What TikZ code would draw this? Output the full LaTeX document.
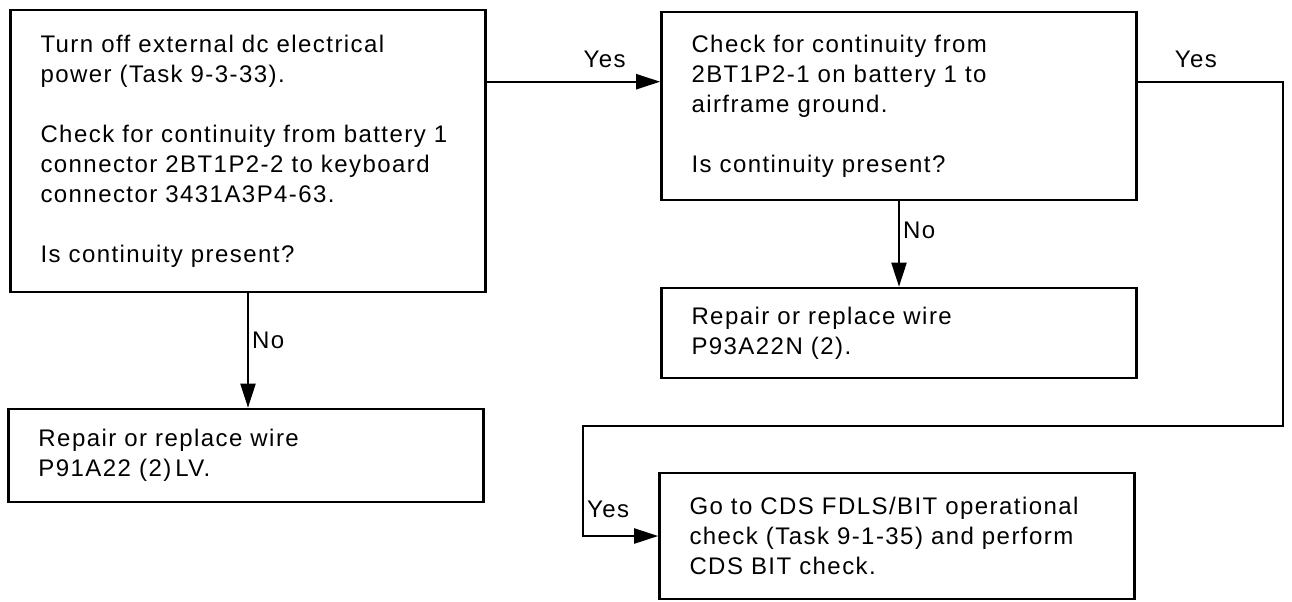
\documentclass[tikz,border=0pt]{standalone}
\usepackage{fontspec}
\setmainfont{Liberation Sans}[LetterSpace=6,WordSpace=1.5]
\usetikzlibrary{arrows.meta,positioning,calc}
\tikzset{
  flowbox/.style={draw, line width=1.3pt, align=left, text width=207.5pt, inner xsep=15pt, inner ysep=0pt, font=\fontsize{12}{15}\selectfont},
  edge/.style={-{Triangle[length=12pt,width=7.5pt]}, line width=1.1pt},
  answer/.style={font=\fontsize{12}{13}\selectfont, inner sep=1.5pt}
}

\begin{document}
\begin{tikzpicture}[x=0.5pt,y=-0.5pt]
  \useasboundingbox[fill=white] (0,0) rectangle (1292,601);
  % question boxes
  \node[flowbox, minimum height=141pt] (pwr) at (248,151) {Turn off external dc electrical\\ power (Task 9-3-33).\\[15pt] Check for continuity from battery 1\\ connector 2BT1P2-2 to keyboard\\ connector 3431A3P4-63.\\[15pt] Is continuity present?};
  \node[flowbox, minimum height=94pt] (gnd) at (899,106) {Check for continuity from\\ 2BT1P2-1 on battery 1 to\\ airframe ground.\\[15pt] Is continuity present?};
  % action boxes
  \node[flowbox, minimum height=45pt] (wireN) at (899,333) {Repair or replace wire\\ P93A22N (2).};
  \node[flowbox, minimum height=46.5pt] (wireLV) at (246,455.5) {Repair or replace wire\\ P91A22 (2)\,LV.};
  \node[flowbox, minimum height=63pt] (bit) at (897,536) {Go to CDS FDLS/BIT operational\\ check (Task 9-1-35) and perform\\ CDS BIT check.};
  % routing points
  \coordinate (yesA) at ([yshift=-36.5pt]pwr.north east);
  \coordinate (rt) at (1283,426);
  \coordinate (lt) at (583,426);
  % connectors
  \draw[edge] (yesA) -- node[answer, pos=0.68, above=5pt] {Yes} (yesA -| gnd.west);
  \draw[edge] (pwr.south) -- node[answer, pos=0.41, right] {No} (pwr.south |- wireLV.north);
  \draw[edge] (gnd.south) -- node[answer, pos=0.34, right] {No} (gnd.south |- wireN.north);
  \draw[edge] (yesA -| gnd.east) -| node[answer, pos=0.2, above=5pt] {Yes} (rt) -- (lt) |- node[answer, pos=0.38, right] {Yes} (bit.west);
\end{tikzpicture}
\end{document}
